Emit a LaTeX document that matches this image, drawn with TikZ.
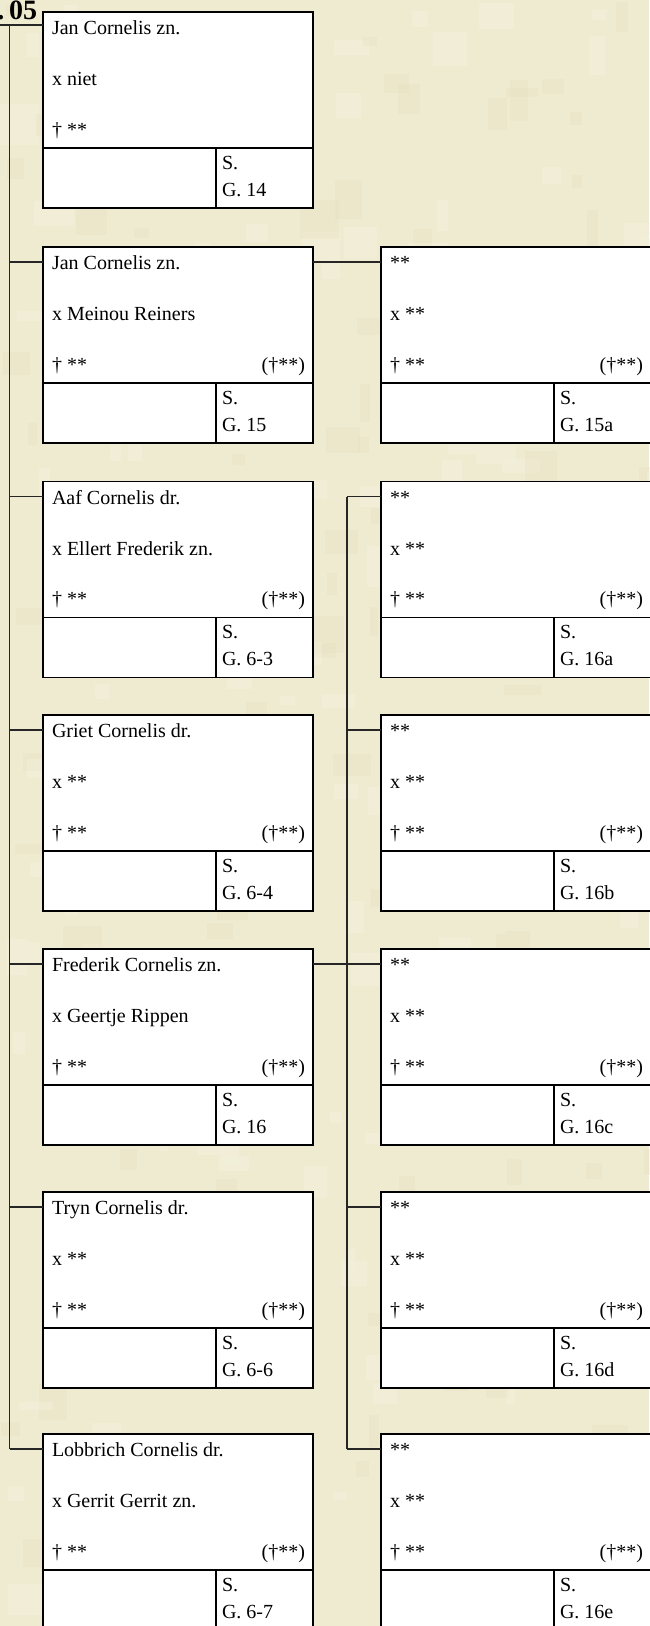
\documentclass[tikz,border=0pt]{standalone}
\usepackage{fontspec}
\setmainfont{Liberation Serif}
\usepackage{xcolor}
\usepackage{tikz}
\usetikzlibrary{arrows.meta,positioning,calc}

\definecolor{parchment}{RGB}{239,235,209}
\definecolor{parchdark}{RGB}{230,223,190}
\definecolor{parchlight}{RGB}{245,243,225}

\begin{document}
\begin{tikzpicture}[x=1pt, y=1pt,
    famBox/.style={draw, fill=white, line width=1.2pt, minimum width=270pt, minimum height=196pt, inner sep=0pt, outer sep=0pt},
    txt/.style={inner sep=0pt, outer sep=0pt, anchor=base west, font=\fontsize{20}{24}\selectfont},
    link/.style={line width=1.2pt, draw=black!85}]
    \fill[parchment] (0,0) rectangle (649,-1626);
    \useasboundingbox (0,0) rectangle (649,-1626);
    % a bit of mottling on the paper
    \pgfmathsetseed{11}
    \foreach \k in {1,...,320}{
        \pgfmathsetmacro\rx{rnd*649}
        \pgfmathsetmacro\ry{rnd*1626}
        \pgfmathsetmacro\rw{8+rnd*34}
        \pgfmathsetmacro\rh{8+rnd*34}
        \ifodd\k \fill[parchdark, opacity=0.3] (\rx,-\ry) rectangle ++(\rw,-\rh);
        \else \fill[parchlight, opacity=0.35] (\rx,-\ry) rectangle ++(\rw,-\rh);\fi
    }
    \node[inner sep=0pt, outer sep=0pt, anchor=base west, font=\bfseries\fontsize{28}{28}\selectfont] (gen) at (-2.5,-19) {.\,05};
    % the cards
    \foreach \bx/\px/\py/\lineA/\lineB/\gen/\alive in {
        l1/43/12/Jan Cornelis zn./x niet/14/0,
        l2/43/247/Jan Cornelis zn./x Meinou Reiners/15/1,
        l3/43/481.5/Aaf Cornelis dr./x Ellert Frederik zn./6-3/1,
        l4/43/715/Griet Cornelis dr./x **/6-4/1,
        l5/43/949/Frederik Cornelis zn./x Geertje Rippen/16/1,
        l6/43/1192/Tryn Cornelis dr./x **/6-6/1,
        l7/43/1434/Lobbrich Cornelis dr./x Gerrit Gerrit zn./6-7/1,
        r2/381/247/**/x **/15a/1,
        r3/381/481.5/**/x **/16a/1,
        r4/381/715/**/x **/16b/1,
        r5/381/949/**/x **/16c/1,
        r6/381/1192/**/x **/16d/1,
        r7/381/1434/**/x **/16e/1}{
        \node[famBox, anchor=north west] (\bx) at (\px,-\py) {};
        \draw[line width=1.2pt] ($(\bx.north west)+(0,-136)$) -- ($(\bx.north east)+(0,-136)$);
        \draw[line width=1.2pt] ($(\bx.north west)+(173,-136)$) -- ($(\bx.south west)+(173,0)$);
        \coordinate (\bx-in) at ($(\bx.north west)+(0,-15)$);
        \coordinate (\bx-out) at ($(\bx.north east)+(0,-15)$);
        \node[txt] (\bx-a) at ($(\bx.north west)+(9,-22.5)$) {\lineA};
        \node[txt] (\bx-b) at ($(\bx.north west)+(9,-73.5)$) {\lineB};
        \node[txt] (\bx-c) at ($(\bx.north west)+(9,-124)$) {† **};
        \ifnum\alive=1
            \node[txt, anchor=base east] (\bx-d) at ($(\bx.north east)+(-8,-124)$) {(†**)};
        \fi
        \node[txt] (\bx-s) at ($(\bx.north west)+(179,-157)$) {S.};
        \node[txt] (\bx-g) at ($(\bx.north west)+(179,-184)$) {G. \gen};
    }
    % connectors
    \coordinate (root) at (0,-25);
    \coordinate (spineL) at (9.5,0);
    \coordinate (spineR) at (347,0);
    \draw[link] (root) -- (root -| l1.west);
    \draw[link] (spineL |- root) -- (spineL |- l7-in);
    \foreach \k in {2,...,7}
        \draw[link] (spineL |- l\k-in) -- (l\k-in);
    \draw[link] (l2-out) -- (r2-in);
    \draw[link] (l5-out) -- (spineR |- l5-out);
    \draw[link] (spineR |- r3-in) -- (spineR |- r7-in);
    \foreach \k in {3,...,7}
        \draw[link] (spineR |- r\k-in) -- (r\k-in);
\end{tikzpicture}
\end{document}
